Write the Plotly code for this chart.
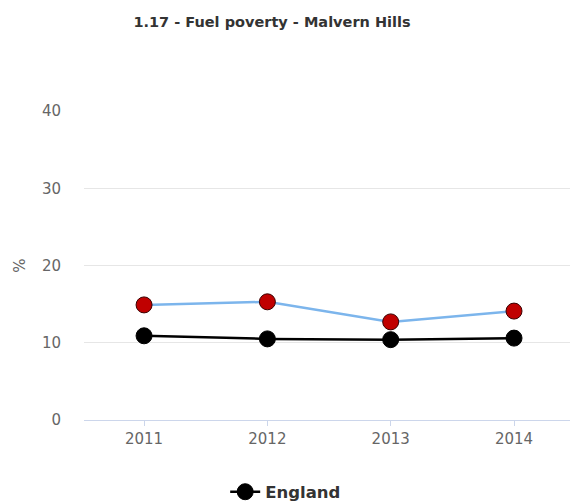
import plotly.graph_objects as go

# Fuel poverty (%), Malvern Hills vs England
years = ["2011", "2012", "2013", "2014"]
malvern_hills = [14.9, 15.3, 12.7, 14.1]
england = [10.9, 10.5, 10.4, 10.6]
y_ticks = [0, 10, 20, 30, 40]

FONT = "DejaVu Sans"

fig = go.Figure()

fig.add_trace(go.Scatter(
    x=list(range(len(years))), y=malvern_hills, name="Malvern Hills",
    mode="lines+markers", showlegend=False,
    line=dict(color="#7cb5ec", width=2.5),
    marker=dict(size=16, color="#c00000", line=dict(color="#3a0000", width=1)),
))

fig.add_trace(go.Scatter(
    x=list(range(len(years))), y=england, name="England",
    mode="lines+markers",
    line=dict(color="#000000", width=2.5),
    marker=dict(size=16, color="#000000", line=dict(color="#000000", width=1)),
))

fig.update_layout(
    width=571, height=501,
    margin=dict(l=84, r=1, t=111, b=81, autoexpand=False),
    paper_bgcolor="white", plot_bgcolor="white",
    font=dict(family=FONT, color="#666666", size=15),
    title=dict(
        text="<b>1.17 - Fuel poverty - Malvern Hills</b>",
        x=272 / 571, xanchor="center", y=1 - 22 / 501, yanchor="middle",
        font=dict(family=FONT, size=14.5, color="#333333"),
    ),
    xaxis=dict(
        range=[-0.487, 3.454],
        tickmode="array", tickvals=list(range(len(years))), ticktext=years,
        showgrid=False, zeroline=False,
        showline=True, linecolor="#ccd6eb", linewidth=1,
        ticks="outside", ticklen=5, tickcolor="#ccd6eb",
        tickfont=dict(size=15, color="#666666"),
        fixedrange=True,
    ),
    yaxis=dict(
        range=[0, 40],
        tickmode="array", tickvals=y_ticks,
        showgrid=True, gridcolor="#e6e6e6", gridwidth=1,
        zeroline=False, showline=False,
        ticks="", ticklabelstandoff=22,
        tickfont=dict(size=15, color="#666666"),
        title=dict(text="%", standoff=12, font=dict(size=15, color="#666666")),
        fixedrange=True,
    ),
    legend=dict(
        orientation="h", x=0.415, xanchor="center", y=-0.233, yanchor="middle",
        font=dict(family=FONT, size=16.5, color="#333333", weight="bold"),
        itemwidth=30,
    ),
)

fig.write_html("out.html")
